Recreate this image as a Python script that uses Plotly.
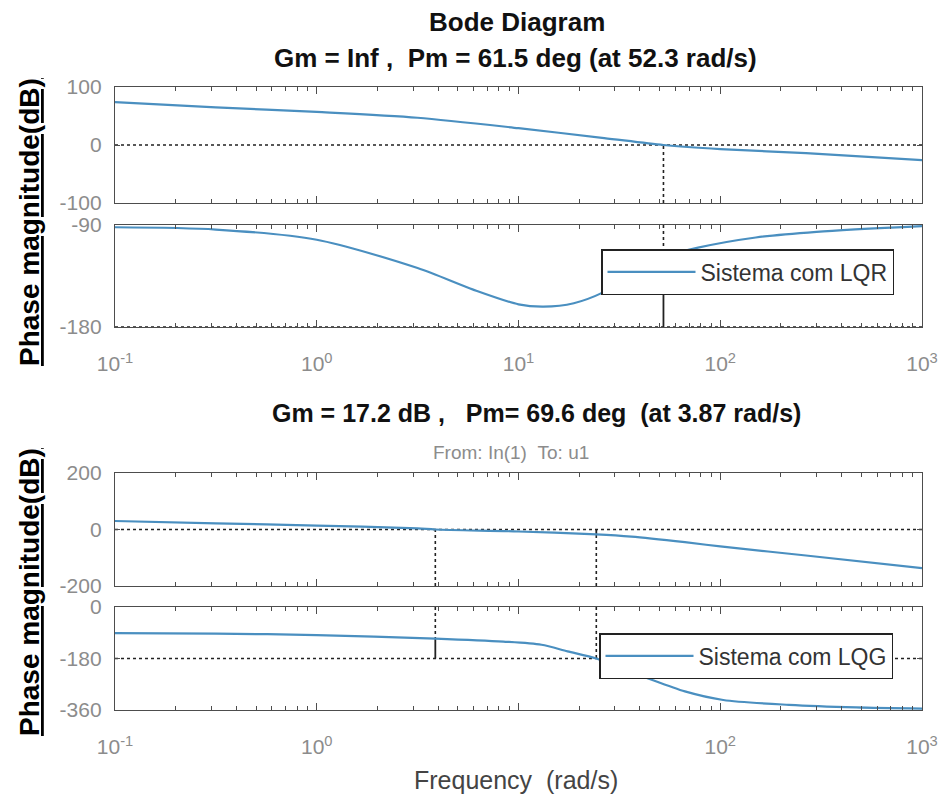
import plotly.graph_objects as go

# ---------------- data ----------------
# Top: Sistema com LQR
lqr_mag_w = [0.1, 0.316, 1, 3.16, 10, 26.6, 52.3, 100, 266, 1000]
lqr_mag = [74, 65, 57, 47, 29, 12, 0, -7, -14, -26]
lqr_ph_w = [0.1, 0.316, 1, 3.16, 5.96, 10, 13.3, 18.8, 26.6, 37.6, 52.3, 77.6, 150, 300, 1000]
lqr_ph = [-92, -94, -103, -128, -147, -160, -162, -159, -149, -133, -118.5, -110, -101, -96, -91]
lqr_wc = 52.3      # rad/s (Pm frequency)
lqr_pm = 61.5      # deg

# Bottom: Sistema com LQG
lqg_mag_w = [0.1, 0.316, 1, 3.16, 3.87, 10, 24.3, 36.3, 66.8, 100, 266, 1000]
lqg_mag = [30, 22, 14, 4, 0, -7, -17, -25, -45, -60, -92, -137]
lqg_ph_w = [0.1, 0.316, 1, 3.87, 8.41, 13, 17.5, 24.3, 31, 40.7, 66.8, 103.5, 219, 473, 1000]
lqg_ph = [-91, -93, -98, -110.4, -121, -132, -155, -180, -212, -241, -295, -325, -342, -351, -355]
lqg_wc = 3.87      # rad/s (Pm frequency)
lqg_pm = 69.6      # deg
lqg_wg = 24.3      # rad/s (Gm frequency)
lqg_gm = 17.2      # dB

x_range = [0.1, 1000]
x_tickvals = [0.1, 1, 10, 100, 1000]
x_ticktext_top = ["10<sup>-1</sup>", "10<sup>0</sup>", "10<sup>1</sup>", "10<sup>2</sup>", "10<sup>3</sup>"]
x_ticktext_bot = ["10<sup>-1</sup>", "10<sup>0</sup>", "", "10<sup>2</sup>", "10<sup>3</sup>"]
y1_ticks = [-100, 0, 100]
y2_ticks = [-180, -90]
y3_ticks = [-200, 0, 200]
y4_ticks = [-360, -180, 0]

# ---------------- styling ----------------
W, H = 949, 798
FONT = "Liberation Sans, Arial, sans-serif"
CURVE = "#4a8fc0"
AXC = "#4d4d4d"
TICKC = "#8c8c8c"
REF = "#222222"

def px(x):
    return x / W

def py(y):
    return 1 - y / H

minor_vals = [m * 10 ** e for e in (-1, 0, 1, 2) for m in range(2, 10)]

fig = go.Figure()

def curve(x, y, xa, ya, name, show, legend):
    fig.add_trace(go.Scatter(x=x, y=y, xaxis=xa, yaxis=ya, mode="lines", name=name,
                             line=dict(color=CURVE, width=2.2, shape="spline", smoothing=0.8),
                             showlegend=show, legend=legend, hoverinfo="skip"))

def ref(x, y, xa, ya, dash="dot", width=1.6):
    fig.add_trace(go.Scatter(x=x, y=y, xaxis=xa, yaxis=ya, mode="lines",
                             line=dict(color=REF, width=width, dash=dash),
                             showlegend=False, hoverinfo="skip"))

# reference (margin) lines - top
ref(x_range, [0, 0], "x", "y")
ref(x_range, [-180, -180], "x2", "y2")
ref([lqr_wc, lqr_wc], [-100, 0], "x", "y")
ref([lqr_wc, lqr_wc], [-90, -180 + lqr_pm], "x2", "y2")
ref([lqr_wc, lqr_wc], [-180, -180 + lqr_pm], "x2", "y2", dash="solid", width=1.8)
# reference (margin) lines - bottom
ref(x_range, [0, 0], "x3", "y3")
ref(x_range, [-180, -180], "x4", "y4")
ref([lqg_wc, lqg_wc], [-200, 0], "x3", "y3")
ref([lqg_wg, lqg_wg], [-200, -lqg_gm], "x3", "y3")
ref([lqg_wg, lqg_wg], [-lqg_gm, 0], "x3", "y3", dash="solid", width=1.8)
ref([lqg_wc, lqg_wc], [0, -180 + lqg_pm], "x4", "y4")
ref([lqg_wc, lqg_wc], [-180, -180 + lqg_pm], "x4", "y4", dash="solid", width=1.8)
ref([lqg_wg, lqg_wg], [0, -180], "x4", "y4")

# curves
curve(lqr_mag_w, lqr_mag, "x", "y", "Sistema com LQR", False, "legend")
curve(lqr_ph_w, lqr_ph, "x2", "y2", "Sistema com LQR", True, "legend")
curve(lqg_mag_w, lqg_mag, "x3", "y3", "Sistema com LQG", False, "legend2")
curve(lqg_ph_w, lqg_ph, "x4", "y4", "Sistema com LQG", True, "legend2")

def xaxis(anchor, labels, ticktext):
    return dict(type="log", range=[-1, 3], domain=[px(115), px(922)], anchor=anchor,
                showline=True, linecolor=AXC, linewidth=1.3, mirror="ticks",
                ticks="inside", ticklen=7, tickcolor=AXC, tickwidth=1.2,
                tickvals=x_tickvals, ticktext=ticktext, showticklabels=labels,
                tickfont=dict(family=FONT, size=21, color=TICKC), ticklabelstandoff=18,
                minor=dict(ticks="inside", ticklen=4, tickcolor=AXC, tickvals=minor_vals, showgrid=False),
                showgrid=False, zeroline=False, fixedrange=True, automargin=False)

def yaxis(anchor, rng, tickvals, top, bottom):
    return dict(range=rng, domain=[py(bottom), py(top)], anchor=anchor,
                showline=True, linecolor=AXC, linewidth=1.3, mirror="ticks",
                ticks="inside", ticklen=5, tickcolor=AXC, tickwidth=1.2,
                tickvals=tickvals, ticktext=[str(v) for v in tickvals],
                tickfont=dict(family=FONT, size=21, color=TICKC),
                ticklabelstandoff=8, showgrid=False, zeroline=False, fixedrange=True,
                automargin=False)

legend_style = dict(xanchor="left", yanchor="top", bgcolor="white", bordercolor="#222222",
                    borderwidth=1.5, font=dict(family=FONT, size=23, color="#333333"),
                    itemwidth=88, tracegroupgap=0)

ann = []
def text(t, x, y, size, color="#111111", bold=False, angle=0):
    ann.append(dict(text=("<b>%s</b>" % t) if bold else t, x=px(x), y=py(y), xref="paper", yref="paper",
                    xanchor="center", yanchor="middle", showarrow=False, textangle=angle,
                    font=dict(family=FONT, size=size, color=color)))

NB = "\u00a0"
text("Bode Diagram", 517, 22, 26, bold=True)
text("Gm = Inf ," + NB * 2 + "Pm = 61.5 deg (at 52.3 rad/s)", 515, 58, 26, bold=True)
text("Gm = 17.2 dB ," + NB * 3 + "Pm= 69.6 deg" + NB * 2 + "(at 3.87 rad/s)", 536, 413, 25, bold=True)
text("From: In(1)" + NB * 2 + "To: u1", 511, 452, 19, color="#8c8c8c")
text("Frequency" + NB * 2 + "(rad/s)", 516, 780, 25, color="#444444")
text("<u>Phase magnitude(dB)</u>", 29, 222, 28, color="#000000", bold=True, angle=-90)
text("<u>Phase magnitude(dB)</u>", 29, 592, 28, color="#000000", bold=True, angle=-90)

fig.update_layout(
    width=W, height=H, margin=dict(l=0, r=0, t=0, b=0, pad=0, autoexpand=False),
    paper_bgcolor="white", plot_bgcolor="white",
    font=dict(family=FONT),
    xaxis=xaxis("y", False, x_ticktext_top),
    xaxis2=xaxis("y2", True, x_ticktext_top),
    xaxis3=xaxis("y3", False, x_ticktext_bot),
    xaxis4=xaxis("y4", True, x_ticktext_bot),
    yaxis=yaxis("x", [-100, 100], y1_ticks, 87, 203),
    yaxis2=yaxis("x2", [-180, -90], y2_ticks, 225, 327),
    yaxis3=yaxis("x3", [-200, 200], y3_ticks, 473, 586),
    yaxis4=yaxis("x4", [-360, 0], y4_ticks, 607, 710),
    legend=dict(x=px(601), y=py(249), **legend_style),
    legend2=dict(x=px(599), y=py(633), **legend_style),
    annotations=ann,
    showlegend=True,
)

fig.write_html("out.html")
